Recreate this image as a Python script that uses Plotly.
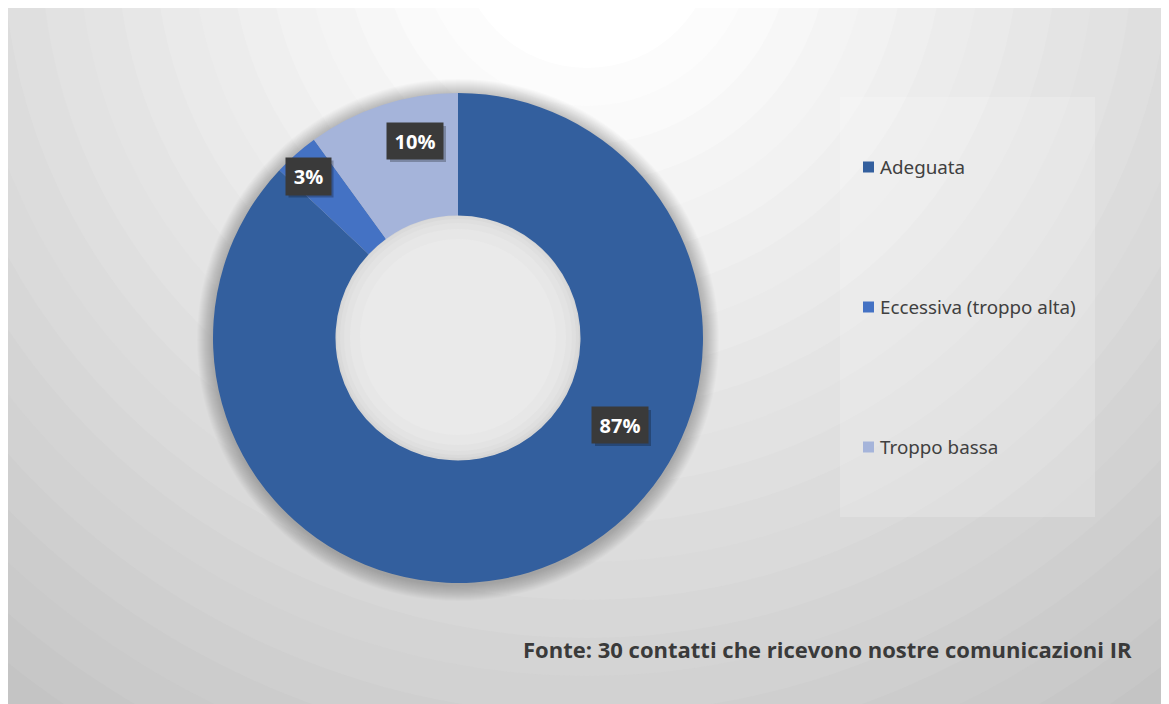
import plotly.graph_objects as go

# ---- data ----
categories = ["Adeguata", "Eccessiva (troppo alta)", "Troppo bassa"]
values = [87, 3, 10]
source_note = "Fonte: 30 contatti che ricevono nostre comunicazioni IR"

# ---- style ----
colors = ["#335f9e", "#4472c4", "#a5b4da"]
W, H = 1169, 704
OFF = 8  # page body margin offset
TEXT = "#404040"


def px(x):
    return (x - OFF) / W


def py(y):
    return 1 - (y - OFF) / H


def circle(cx, cy, r, fill, layer="below"):
    return dict(type="circle", xref="paper", yref="paper",
                x0=px(cx - r), x1=px(cx + r), y0=py(cy + r), y1=py(cy - r),
                fillcolor=fill, line=dict(width=0), layer=layer)


def rect(x0, y0, x1, y1, fill, layer="below"):
    return dict(type="rect", xref="paper", yref="paper", x0=px(x0), x1=px(x1),
                y0=py(y1), y1=py(y0), fillcolor=fill, line=dict(width=0), layer=layer)


shapes = []
# radial background gradient (concentric bands)
gcx, gcy = 587, -60
r = 1040
while r > 100:
    L = int(max(190, min(255, 255 - 0.070 * (r - 20 - 113))))
    shapes.append(circle(gcx, gcy, r, f"rgb({L},{L},{L})"))
    r -= 38
# legend box
shapes.append(rect(840, 97, 1095, 517, "rgba(255,255,255,0.2)"))
# donut soft shadow
dcx, dcy, R = 458, 338, 245
for k in range(16, 0, -1):
    shapes.append(circle(dcx, dcy + 2, R + k, "rgba(0,0,0,0.014)"))
# donut hole with inner shadow
for rr, c in [(124, "#d4d4d4"), (121, "#dadada"), (118, "#dfdfdf"), (114, "#e3e3e3"),
              (108, "#e7e7e7"), (98, "#eaeaea")]:
    shapes.append(circle(dcx, dcy - 1, rr, c))

fig = go.Figure(go.Pie(
    labels=categories, values=values, hole=0.5, sort=False, direction="clockwise",
    rotation=0, marker=dict(colors=colors, line=dict(width=0)),
    textinfo="none", hoverinfo="label+percent", showlegend=False,
    domain=dict(x=[px(dcx - R), px(dcx + R)], y=[py(dcy + R), py(dcy - R)]),
))

annotations = []
# data labels (dark boxes with a soft shadow)
label_pos = [(620, 425), (308, 176), (415, 141)]
label_box = [(56, 36), (45, 37), (56, 36)]
for (lx, ly), (bw, bh), v in zip(label_pos, label_box, values):
    shapes.append(rect(lx - bw / 2 + 3, ly - bh / 2 + 3, lx + bw / 2 + 3, ly + bh / 2 + 3,
                       "rgba(0,0,0,0.25)", layer="above"))
    annotations.append(dict(xref="paper", yref="paper", x=px(lx), y=py(ly),
                            text=f"<b>{v}%</b>", showarrow=False, xanchor="center",
                            yanchor="middle", bgcolor="#3a3a3a", borderpad=0,
                            width=bw, height=bh, align="center", valign="middle",
                            font=dict(family="Open Sans", size=20, color="white")))

# legend
leg_y = [167, 307, 447]
for cat, col, ly in zip(categories, colors, leg_y):
    shapes.append(rect(863, ly - 5.5, 874, ly + 5.5, col, layer="above"))
    annotations.append(dict(xref="paper", yref="paper", x=px(878), y=py(ly),
                            text=cat, showarrow=False, xanchor="left", yanchor="middle",
                            font=dict(family="Noto Sans", size=18.8, color=TEXT)))

# source note
annotations.append(dict(xref="paper", yref="paper", x=px(1134), y=py(649),
                        text=f"<b>{source_note}</b>", showarrow=False, xanchor="right",
                        yanchor="middle",
                        font=dict(family="Open Sans", size=22, color="#3a3a3a")))

fig.update_layout(
    width=W, height=H, margin=dict(l=0, r=0, t=0, b=0),
    paper_bgcolor="rgb(190,190,190)", plot_bgcolor="rgba(0,0,0,0)",
    shapes=shapes, annotations=annotations,
)

fig.write_html("out.html")
